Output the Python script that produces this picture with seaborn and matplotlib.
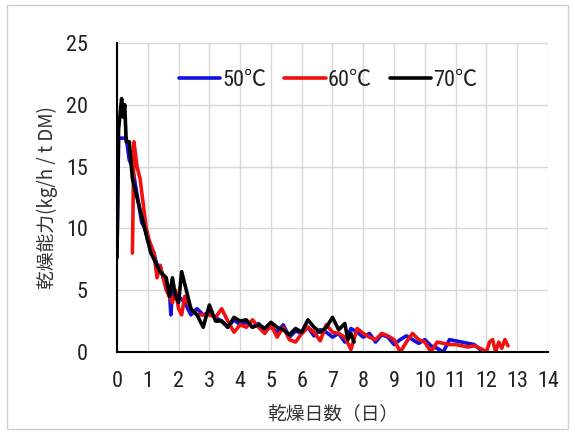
import matplotlib
matplotlib.use("Agg")
import matplotlib.pyplot as plt
import pandas as pd
import seaborn as sns
from matplotlib.patches import Rectangle

# drying capacity (kg/h / t DM) vs drying days
blue_day = [0.0, 0.05, 0.15, 0.3, 0.4, 0.5, 0.6, 0.7, 0.8, 0.9, 1.0, 1.1, 1.2, 1.3, 1.4, 1.5,
            1.6, 1.7, 1.75, 1.8, 1.9, 2.0, 2.2, 2.4, 2.6, 2.8, 3.0, 3.2, 3.4, 3.6, 3.8, 4.0,
            4.2, 4.4, 4.6, 4.8, 5.0, 5.2, 5.4, 5.6, 5.8, 6.0, 6.2, 6.4, 6.6, 6.8, 7.0, 7.2,
            7.4, 7.6, 7.8, 8.0, 8.2, 8.4, 8.6, 8.8, 9.0, 9.2, 9.4, 9.6, 9.8, 10.0, 10.2,
            10.4, 10.6, 10.8, 11.0, 11.2, 11.4, 11.6, 11.8, 12.0]
blue_val = [8.0, 17.3, 17.3, 17.3, 15.5, 15.0, 13.5, 12.0, 10.5, 10.0, 9.0, 8.5, 8.0, 7.0, 7.0, 6.0,
            5.5, 5.0, 3.0, 5.0, 4.5, 4.5, 4.0, 3.0, 3.5, 3.0, 3.2, 2.8, 2.5, 2.0, 2.6, 2.2,
            2.4, 2.0, 2.3, 1.8, 2.0, 1.6, 2.2, 1.2, 1.7, 1.5, 2.0, 1.3, 1.8, 1.6, 1.2, 1.5,
            0.8, 1.9, 1.6, 1.2, 1.5, 0.8, 1.4, 1.2, 0.6, 1.0, 1.3, 1.0, 0.7, 1.0, 0.5,
            0.3, 0.0, 1.0, 0.9, 0.8, 0.7, 0.6, 0.2, 0.0]

red_day = [0.5, 0.55, 0.65, 0.75, 0.85, 0.95, 1.05, 1.2, 1.3, 1.4, 1.5, 1.6, 1.7, 1.8, 1.9,
           2.0, 2.1, 2.2, 2.3, 2.4, 2.6, 2.8, 3.0, 3.2, 3.4, 3.6, 3.8, 4.0, 4.2, 4.4, 4.6,
           4.8, 5.0, 5.2, 5.4, 5.6, 5.8, 6.0, 6.2, 6.4, 6.6, 6.8, 7.0, 7.2, 7.4, 7.6, 7.8,
           8.0, 8.2, 8.4, 8.6, 8.8, 9.0, 9.2, 9.4, 9.6, 9.8, 10.0, 10.2, 10.4, 10.6, 10.8,
           11.0, 11.2, 11.4, 11.6, 11.8, 12.0, 12.1, 12.2, 12.3, 12.4, 12.5, 12.6, 12.7]
red_val = [8.0, 17.0, 15.0, 14.0, 12.0, 10.0, 9.0, 8.0, 6.0, 7.0, 6.0, 5.0, 4.5, 4.0, 5.0,
           3.5, 3.0, 4.5, 4.0, 3.5, 3.0, 3.0, 3.0, 2.8, 3.5, 2.5, 1.6, 2.2, 2.0, 2.6, 2.0,
           1.5, 2.2, 1.2, 2.0, 1.0, 0.8, 1.5, 2.0, 1.6, 0.9, 2.2, 1.6, 1.5, 1.2, 0.2, 1.9,
           1.5, 1.2, 1.0, 1.5, 1.3, 1.0, 0.0, 0.8, 1.5, 1.0, 0.8, 0.0, 0.8, 0.7, 0.6,
           0.6, 0.5, 0.4, 0.5, 0.3, 0.0, 0.8, 1.0, 0.0, 0.8, 0.3, 1.0, 0.5]

black_day = [0.0, 0.05, 0.15, 0.2, 0.25, 0.3, 0.4, 0.5, 0.6, 0.7, 0.8, 0.9, 1.0, 1.1, 1.2,
             1.3, 1.4, 1.6, 1.7, 1.8, 1.9, 2.0, 2.1, 2.2, 2.3, 2.4, 2.6, 2.8, 3.0, 3.2, 3.4,
             3.6, 3.8, 4.0, 4.2, 4.4, 4.6, 4.8, 5.0, 5.2, 5.4, 5.6, 5.8, 6.0, 6.2, 6.4, 6.6,
             6.8, 7.0, 7.2, 7.4, 7.5, 7.6, 7.7]
black_val = [7.6, 18.0, 20.5, 19.0, 20.0, 17.0, 17.0, 14.0, 13.0, 12.0, 11.0, 10.0, 9.0, 8.0, 7.5,
             7.0, 6.5, 6.0, 4.5, 6.0, 4.5, 4.0, 6.5, 5.5, 4.5, 3.5, 3.0, 2.0, 3.8, 2.5, 2.5,
             2.0, 2.8, 2.5, 2.6, 2.0, 2.2, 1.9, 2.4, 2.0, 1.8, 1.4, 1.9, 1.6, 2.6, 2.0, 1.6,
             2.0, 2.8, 1.8, 2.3, 1.0, 1.5, 0.8]

labels = ["50℃", "60℃", "70℃"]
colors = ["#1010e0", "#f01010", "#000000"]

frames = []
for lab, d, v in zip(labels, [blue_day, red_day, black_day], [blue_val, red_val, black_val]):
    frames.append(pd.DataFrame({"day": d, "val": v, "temp": lab}))
df = pd.concat(frames, ignore_index=True)

sns.set_style("white")
plt.rcParams["font.family"] = ["Roboto Condensed", "Noto Sans CJK JP", "DejaVu Sans"]
plt.rcParams["text.color"] = "#222222"

fig = plt.figure(figsize=(5.75, 4.34), dpi=100)
ax = fig.add_axes([0.2035, 0.189, 0.7495, 0.712])
fig.patches.append(Rectangle((0.012, 0.012), 0.976, 0.976, transform=fig.transFigure,
                             fill=False, edgecolor="#d0d0d0", linewidth=1.0))

sns.lineplot(data=df, x="day", y="val", hue="temp", palette=colors, sort=False,
             estimator=None, linewidth=2.6, ax=ax)

ax.set_xlim(0, 14)
ax.set_ylim(0, 25)
ax.set_xticks(range(0, 15))
ax.set_xticks([i + 0.5 for i in range(14)], minor=True)
ax.set_yticks(range(0, 26, 5))
ax.grid(True, which="major", color="#d8d8d8", linewidth=1.0)
ax.tick_params(axis="both", which="both", direction="in", labelsize=16,
               color="black", labelcolor="#222222")
ax.tick_params(axis="both", which="major", length=5, width=1.2)
ax.tick_params(axis="x", which="minor", length=5, width=1.2)
ax.tick_params(axis="x", which="major", pad=14)
ax.tick_params(axis="y", which="major", pad=21)
for s in ["top", "right"]:
    ax.spines[s].set_visible(False)
for s in ["left", "bottom"]:
    ax.spines[s].set_color("black")
    ax.spines[s].set_linewidth(1.5)

ax.set_xlabel("乾燥日数（日）", family=["Noto Sans CJK JP"], fontsize=13.5, color="#333333", labelpad=8)
ax.set_ylabel("乾燥能力(kg/h / t DM)", family=["Noto Sans CJK JP"], fontsize=13.5,
              color="#333333", labelpad=6)

ax.legend(loc="center", bbox_to_anchor=(0.49, 0.88), ncol=3, frameon=False, fontsize=16,
          handlelength=1.85, handletextpad=0.1, columnspacing=0.8)

fig.savefig("out.png", dpi=100)
